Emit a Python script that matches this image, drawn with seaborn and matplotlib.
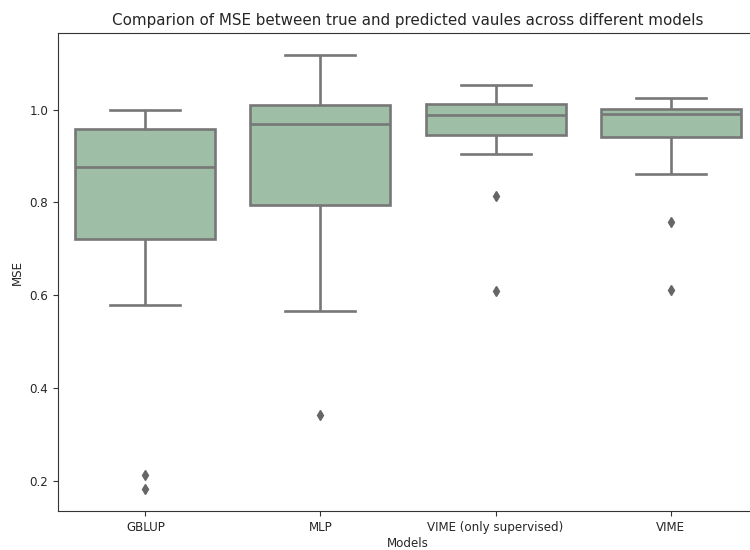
import matplotlib
matplotlib.use("Agg")
import matplotlib.pyplot as plt
import seaborn as sns
import pandas as pd

# Per-fold MSE for each model
models = ["GBLUP", "MLP", "VIME (only supervised)", "VIME"]

mse_gblup = [0.182, 0.212, 0.579, 0.721, 0.780, 0.830, 0.876,
             0.910, 0.940, 0.958, 0.970, 0.985, 0.998]
mse_mlp = [0.341, 0.567, 0.700, 0.795, 0.880, 0.930, 0.969,
           0.985, 1.000, 1.009, 1.040, 1.070, 1.118]
mse_vime_sup = [0.610, 0.814, 0.904, 0.945, 0.960, 0.975, 0.988,
                0.995, 1.003, 1.012, 1.025, 1.040, 1.053]
mse_vime = [0.612, 0.757, 0.861, 0.940, 0.955, 0.975, 0.991,
            0.995, 0.998, 1.001, 1.010, 1.018, 1.025]

series = [mse_gblup, mse_mlp, mse_vime_sup, mse_vime]
df = pd.DataFrame({
    "Models": [m for m, vals in zip(models, series) for _ in vals],
    "MSE": [v for vals in series for v in vals],
})

box_color = "#9ebea6"
line_color = "#777777"

fig = plt.figure(figsize=(7.5, 5.5), dpi=100)
ax = fig.add_axes([0.0773, 0.0709, 1.0107 - 0.0773, 0.94 - 0.0709])

sns.boxplot(
    data=df, x="Models", y="MSE", order=models, ax=ax,
    color=box_color, saturation=1, width=0.8, linewidth=1.9,
    linecolor=line_color,
    flierprops=dict(marker="d", markerfacecolor="#666666",
                    markeredgecolor="#666666", markersize=5.5),
)
for patch in ax.patches:
    patch.set_facecolor(box_color)
    patch.set_edgecolor(line_color)

ax.set_yticks([0.2, 0.4, 0.6, 0.8, 1.0])
ax.tick_params(labelsize=8.6, colors="#333333", labelcolor="#262626")
for spine in ax.spines.values():
    spine.set_color("#333333")
ax.set_xlabel("Models", fontsize=8.6, labelpad=2, color="#262626")
ax.set_ylabel("MSE", fontsize=8.6, color="#262626")
ax.set_title("Comparion of MSE between true and predicted vaules across different models",
             fontsize=10.9, color="#262626")

fig.savefig("out.png", dpi=100)
